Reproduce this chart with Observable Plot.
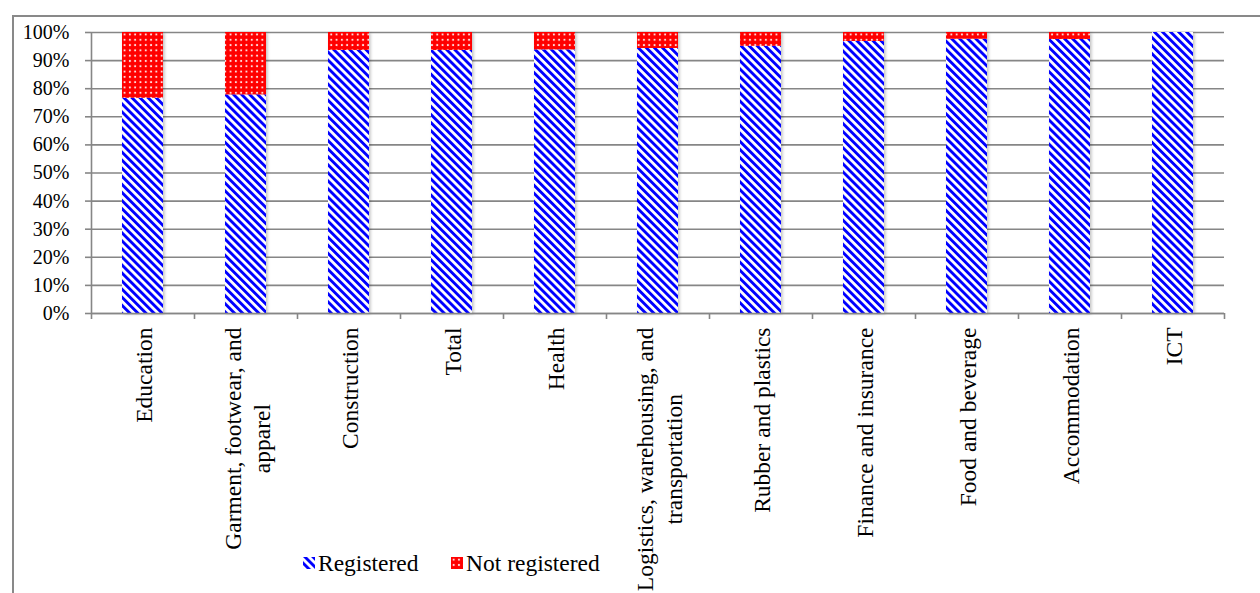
<!DOCTYPE html>
<html>
<head>
<meta charset="utf-8">
<script src="https://cdn.jsdelivr.net/npm/d3@7"></script>
<script src="https://cdn.jsdelivr.net/npm/@observablehq/plot@0.6"></script>
<style>
  body { margin: 0; background: #fff; }
  #wrap { position: relative; width: 1260px; height: 593px; overflow: hidden; font-family: "Liberation Serif", serif; color: #000; }
  #border { position: absolute; left: 12px; top: 15px; width: 1400px; height: 800px; border: 2px solid #898989; box-sizing: border-box; }
  #chart { position: absolute; left: 0; top: 0; }
  .leg { position: absolute; top: 549px; display: flex; align-items: center; font-size: 23.5px; line-height: 28px; }
  .leg svg { margin-right: 3px; }
</style>
</head>
<body>
<div id="wrap">
  <div id="border"></div>
  <div id="chart"></div>
  <div id="legend"></div>
</div>
<script>
// ---- data ----
const categories = ["Education", "Garment", "Construction", "Total", "Health", "Logistics",
  "Rubber and plastics", "Finance and insurance", "Food and beverage", "Accommodation", "ICT"];
const categoryLabels = ["Education", "Garment, footwear, and\napparel", "Construction", "Total", "Health",
  "Logistics, warehousing, and\ntransportation", "Rubber and plastics", "Finance and insurance",
  "Food and beverage", "Accommodation", "ICT"];
const seriesNames = ["Registered", "Not registered"];
const registered    = [76.6, 77.8, 93.6, 93.6, 93.8, 94.3, 95.1, 96.8, 97.6, 97.5, 100];
const notRegistered = [23.4, 22.2, 6.4, 6.4, 6.2, 5.7, 4.9, 3.2, 2.4, 2.5, 0];
const yTicks = [0, 10, 20, 30, 40, 50, 60, 70, 80, 90, 100];

// ---- table for the library ----
const rows = [];
categories.forEach((c, i) => {
  rows.push({category: c, status: seriesNames[0], value: registered[i]});
  rows.push({category: c, status: seriesNames[1], value: notRegistered[i]});
});

const W = 1260, H = 593;
const mL = 91, mR = 36, mT = 32, mB = 280;
const step = (W - mL - mR) / categories.length;
const grey = "#868686";

const chart = Plot.plot({
  width: W, height: H,
  marginLeft: mL, marginRight: mR, marginTop: mT, marginBottom: mB,
  style: {background: "transparent", fontFamily: "'Liberation Serif', serif", fontSize: "20px", color: "#000"},
  x: {domain: categories, paddingInner: 0.6, paddingOuter: 0.3, label: null},
  y: {domain: [0, 100], label: null},
  color: {domain: seriesNames, range: ["url(#pReg)", "url(#pNot)"]},
  marks: [
    Plot.gridY(yTicks, {stroke: grey, strokeOpacity: 1, strokeWidth: 1.6}),
    Plot.barY(rows, Plot.stackY({x: "category", y: "value", fill: "status"})),
    // category boundary tick marks below the axis, and the y axis line
    Plot.ruleX(categories, {x: d => d, dx: -step / 2, y1: 0, y2: 0, insetBottom: -6, stroke: grey, strokeWidth: 1.6}),
    Plot.ruleX(categories.slice(-1), {x: d => d, dx: step / 2, y1: 0, y2: 0, insetBottom: -6, stroke: grey, strokeWidth: 1.6}),
    Plot.ruleX(categories.slice(0, 1), {x: d => d, dx: -step / 2, y1: 0, y2: 100, stroke: grey, strokeWidth: 1.6}),
    Plot.ruleY([0], {stroke: grey, strokeWidth: 1.6}),
    Plot.axisY(yTicks, {tickSize: 6, tickPadding: 16, tickFormat: d => d + "%", stroke: grey, strokeWidth: 1.6, fill: "#000", fontSize: 20, label: null}),
    Plot.axisX({tickSize: 0, tickPadding: 14, tickRotate: -90, textAnchor: "end", lineAnchor: "middle",
      lineHeight: 1.26, fontSize: 23.5, fill: "#000", label: null,
      tickFormat: d => categoryLabels[categories.indexOf(d)]})
  ]
});
document.getElementById("chart").appendChild(chart);

// patterns
function addPatterns(svgSel, suffix) {
  const defs = svgSel.insert("defs", ":first-child");
  const p1 = defs.append("pattern").attr("id", "pReg" + suffix).attr("patternUnits", "userSpaceOnUse")
    .attr("width", 5.7).attr("height", 5.7).attr("patternTransform", "rotate(-45)");
  p1.append("rect").attr("width", 5.7).attr("height", 5.7).attr("fill", "#fff");
  p1.append("rect").attr("width", 2.9).attr("height", 5.7).attr("fill", "#0000ff");
  const p2 = defs.append("pattern").attr("id", "pNot" + suffix).attr("patternUnits", "userSpaceOnUse")
    .attr("width", 5.3).attr("height", 5.3);
  p2.append("rect").attr("width", 5.3).attr("height", 5.3).attr("fill", "#ff0000");
  p2.append("rect").attr("x", 1.7).attr("y", 1.7).attr("width", 1.9).attr("height", 1.9).attr("fill", "#ffd8d8");
  return defs;
}
const svg = d3.select(chart);
const defs = addPatterns(svg, "");
const f = defs.append("filter").attr("id", "shadow").attr("x", "-20%").attr("y", "-5%").attr("width", "140%").attr("height", "110%");
f.append("feDropShadow").attr("dx", 1.5).attr("dy", 1).attr("stdDeviation", 1.5).attr("flood-color", "#000").attr("flood-opacity", 0.25);
svg.selectAll("g[aria-label='bar']").attr("filter", "url(#shadow)");

// center the lines of multi-line rotated labels on each other
svg.selectAll("g[aria-label='x-axis tick label'] text").each(function() {
  const spans = Array.from(this.querySelectorAll("tspan"));
  if (spans.length < 2) return;
  const lens = spans.map(s => s.getComputedTextLength());
  const max = Math.max(...lens);
  spans.forEach((s, i) => s.setAttribute("x", -(max - lens[i]) / 2));
});

// legend
const legend = document.getElementById("legend");
const legLeft = [303, 451];
seriesNames.forEach((name, i) => {
  const item = document.createElement("div");
  item.className = "leg";
  item.style.left = legLeft[i] + "px";
  const s = d3.create("svg").attr("width", 12).attr("height", 12);
  addPatterns(s, "L" + i);
  s.append("rect").attr("width", 12).attr("height", 12).attr("fill", `url(#${i === 0 ? "pReg" : "pNot"}L${i})`);
  item.appendChild(s.node());
  item.appendChild(document.createTextNode(name));
  legend.appendChild(item);
});
</script>
</body>
</html>
